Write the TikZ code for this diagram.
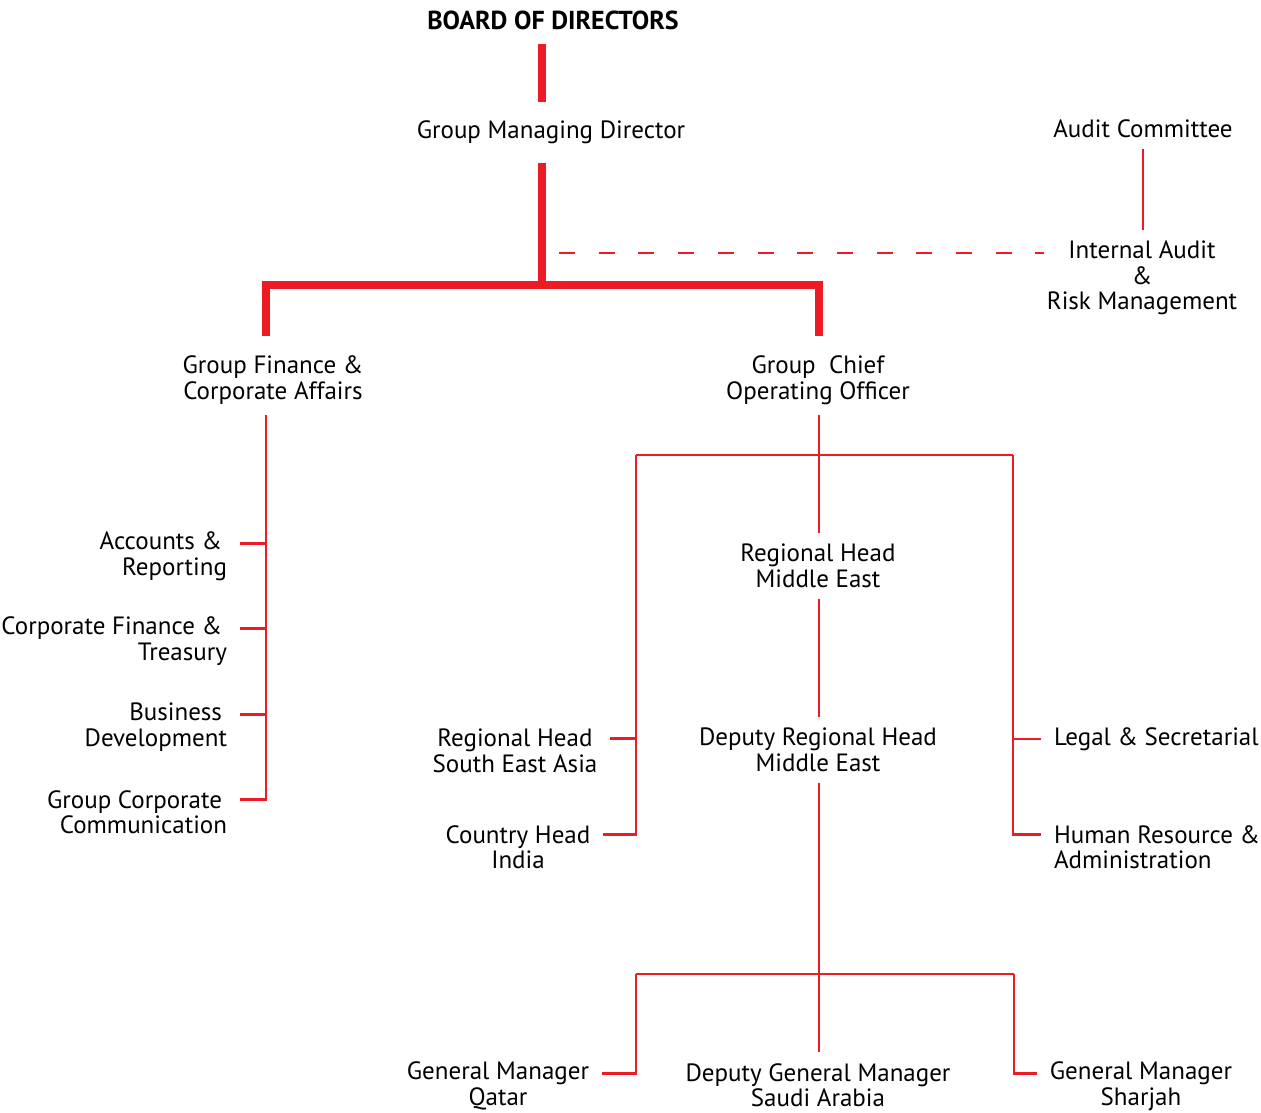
\documentclass[tikz,border=0pt]{standalone}
\usepackage{fontspec}
\setmainfont{PT Sans}
\usetikzlibrary{calc}
\definecolor{orgred}{HTML}{ED1C24}

\begin{document}
\begin{tikzpicture}[x=1pt, y=-1pt, font=\fontsize{25}{25.5}\selectfont,
    lbl/.style={inner sep=0pt, outer xsep=13pt, outer ysep=11pt, align=center},
    lblr/.style={lbl, align=right, anchor=east},
    lbll/.style={lbl, align=left, anchor=west},
    thickln/.style={draw=orgred, line width=8pt},
    thinln/.style={draw=orgred, line width=2.5pt},
    dashln/.style={thinln, dash pattern=on 16pt off 23.7pt},
  ]
    \useasboundingbox (0,0) rectangle (1261,1113);

    % top of the chart
    \node[lbl, font=\fontsize{26}{26}\selectfont\bfseries] (board) at (553,20) {BOARD OF DIRECTORS};
    \node[lbl] (gmd)   at (551,132)  {Group Managing Director};
    \node[lbl] (audit) at (1143,129) {Audit Committee};
    \node[lbl] (iarm)  at (1142,278) {Internal Audit\\ \&\\ Risk Management};
    \node[lbl] (gfca)  at (273,380)  {Group Finance \&\\ Corporate Affairs};
    \node[lbl] (coo)   at (818,380)  {Group~ Chief\\ Operating Officer};

    % finance side
    \node[lblr] (acc)  at (240,556) {Accounts \&\kern5pt\\ Reporting};
    \node[lblr] (cfin) at (240,641) {Corporate Finance \&\kern5pt\\ Treasury};
    \node[lblr] (bdev) at (240,727) {Business\kern5pt\\ Development};
    \node[lblr] (gcc)  at (240,812) {Group Corporate\kern5pt\\ Communication};

    % operations side
    \node[lbl]  (rhme)  at (818,566)  {Regional Head\\ Middle East};
    \node[lbl]  (drh)   at (818,750)  {Deputy Regional Head\\ Middle East};
    \node[lbl]  (rsea)  at (515,751)  {Regional Head\\ South East Asia};
    \node[lbl]  (chi)   at (518,847)  {Country Head\\ India};
    \node[lbll] (legal) at (1041,739) {Legal \& Secretarial};
    \node[lbll] (hr)    at (1041,847) {Human Resource \&\\ Administration};
    \node[lbl]  (gmq)   at (498,1086) {General Manager\\ Qatar};
    \node[lbl]  (dgm)   at (818,1085) {Deputy General Manager\\ Saudi Arabia};
    \node[lbl]  (gms)   at (1141,1086) {General Manager\\ Sharjah};

    % bus points
    \coordinate (trunk) at (542,285);
    \coordinate (finb)  at (266,285);
    \coordinate (coob)  at (819,285);
    \coordinate (dst)   at (559,253);
    \coordinate (cbl)   at (636,455);
    \coordinate (cbr)   at (1013,455);
    \coordinate (bbl)   at (636,974);
    \coordinate (bbr)   at (1014,974);

    \draw[thickln, shorten <=4pt, shorten >=7pt] (board.south -| trunk) -- (gmd.north -| trunk);
    \draw[thickln, shorten <=8pt] (gmd.south -| trunk) -- (trunk);
    \draw[thickln, shorten <=9pt, shorten >=9pt] (gfca.north -| finb) |- (trunk) -| (coo.north -| coob);
    \draw[dashln, shorten >=-10pt] (dst) -- (dst -| iarm.west);
    \draw[thinln] (audit.south) -- (audit.south |- iarm.north);

    % finance branch
    \draw[thinln] (gfca.south -| finb) |- ([yshift=12.75pt]gcc.east);
    \foreach \n in {acc, cfin, bdev} {
      \draw[thinln] ([yshift=12.75pt]\n.east) -- ([yshift=12.75pt]\n.east -| finb);
    }

    % operations branch
    \draw[thinln] (coo.south -| coob) -- (rhme.north -| coob);
    \draw[thinln] (cbl) -- (cbr);
    \draw[thinln] (cbl) |- ([yshift=12.75pt]chi.east);
    \draw[thinln] ([yshift=12.75pt]rsea.east) -- ([yshift=12.75pt]rsea.east -| cbl);
    \draw[thinln] (cbr) |- ([yshift=12.75pt]hr.west);
    \draw[thinln] (legal.west) -- (legal.west -| cbr);
    \draw[thinln] (rhme.south -| coob) -- (drh.north -| coob);
    \draw[thinln] (drh.south -| coob) -- (dgm.north -| coob);
    \draw[thinln] (bbl) -- (bbr);
    \draw[thinln] (bbl) |- ([yshift=12.75pt]gmq.east);
    \draw[thinln] (bbr) |- ([yshift=12.75pt]gms.west);
  \end{tikzpicture}
\end{document}
